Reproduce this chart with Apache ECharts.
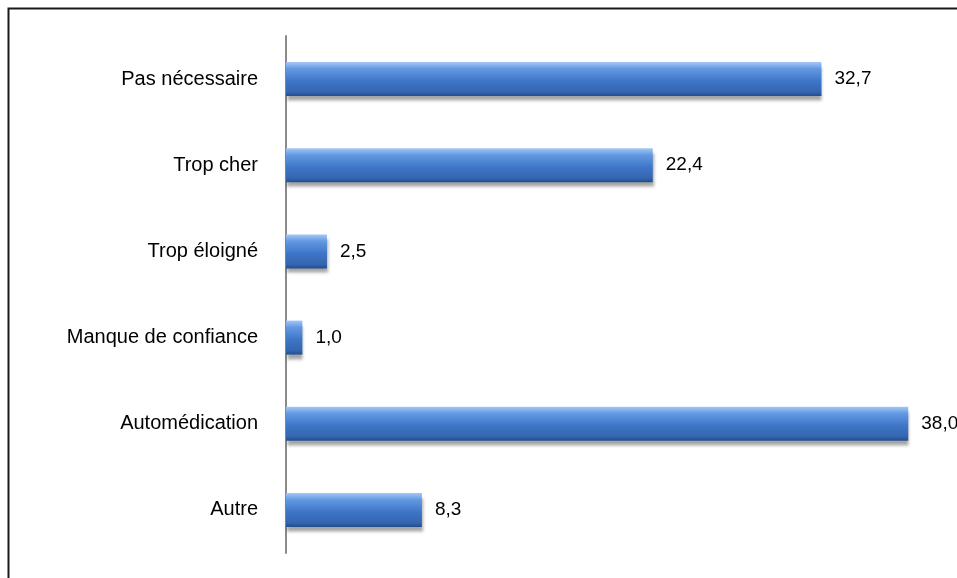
<!DOCTYPE html>
<html>
<head>
<meta charset="utf-8">
<script src="https://cdn.jsdelivr.net/npm/echarts@6/dist/echarts.min.js"></script>
<style>
  html, body { margin: 0; padding: 0; background: #fff; }
  #chart { width: 957px; height: 578px; }
</style>
</head>
<body>
<div id="chart"></div>
<script>
// Reasons given (percent of respondents)
const categories = ['Pas nécessaire', 'Trop cher', 'Trop éloigné', 'Manque de confiance', 'Automédication', 'Autre'];
const values = [32.7, 22.4, 2.5, 1.0, 38.0, 8.3];

const chart = echarts.init(document.getElementById('chart'));

// Glossy blue fill: light highlight on top, darker edge at the bottom
const barFill = new echarts.graphic.LinearGradient(0, 0, 0, 1, [
  { offset: 0, color: '#a4c8f7' },
  { offset: 0.2, color: '#6399e2' },
  { offset: 0.55, color: '#3f76c8' },
  { offset: 0.88, color: '#3465b0' },
  { offset: 1, color: '#224d8c' }
]);

chart.setOption({
  animation: false,
  backgroundColor: '#fff',
  textStyle: { fontFamily: 'Liberation Sans, Arial, sans-serif' },
  graphic: [{
    type: 'rect',
    shape: { x: 8.5, y: 8.5, width: 1000, height: 620 },
    style: { fill: 'none', stroke: '#1a1a1a', lineWidth: 2 },
    silent: true
  }],
  grid: { left: 286, top: 36, width: 655, height: 517, containLabel: false },
  xAxis: {
    type: 'value', min: 0, max: 40,
    show: false
  },
  yAxis: {
    type: 'category',
    data: categories,
    inverse: true,
    axisLine: { show: true, lineStyle: { color: '#8a8a8a', width: 2 } },
    axisTick: { show: false },
    axisLabel: { color: '#000', fontSize: 20, margin: 28 }
  },
  series: [{
    type: 'bar',
    data: values,
    barWidth: 34,
    itemStyle: {
      color: barFill,
      shadowColor: 'rgba(0,0,0,0.35)',
      shadowBlur: 3,
      shadowOffsetY: 5,
      shadowOffsetX: 1
    },
    label: {
      show: true,
      position: 'right',
      distance: 13,
      color: '#000',
      fontSize: 19,
      formatter: p => p.value.toFixed(1).replace('.', ',')
    }
  }]
});
</script>
</body>
</html>
